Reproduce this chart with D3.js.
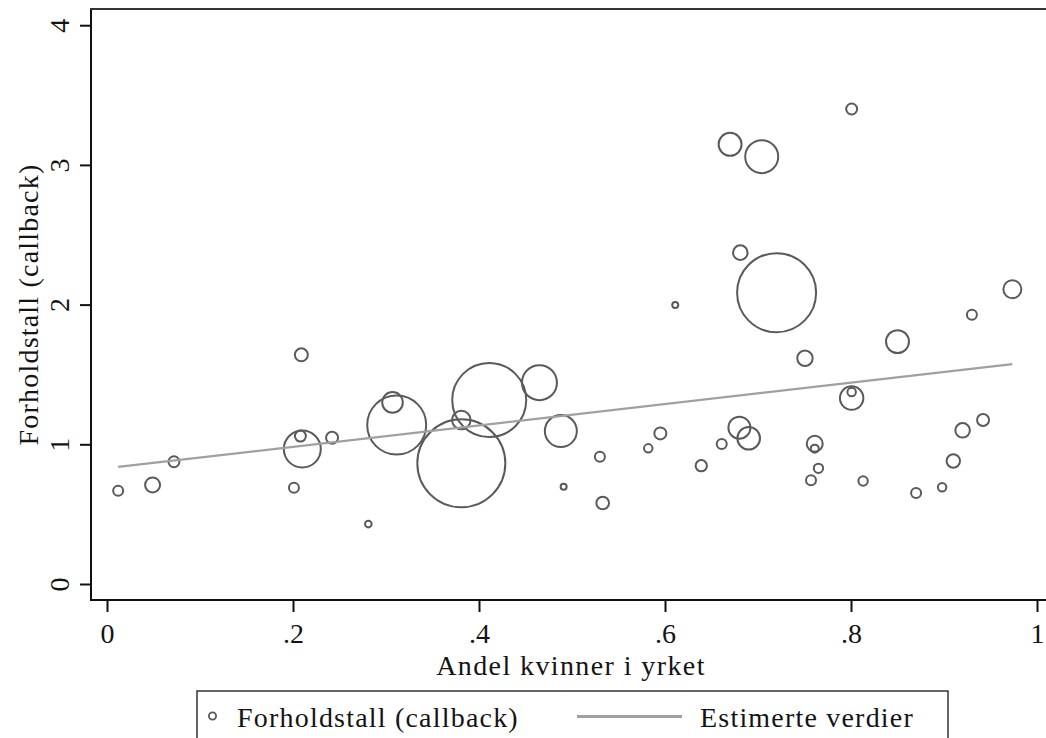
<!DOCTYPE html>
<html>
<head>
<meta charset="utf-8">
<script src="https://cdn.jsdelivr.net/npm/d3@7"></script>
<style>
  html, body { margin: 0; padding: 0; background: #fff; }
  svg { display: block; }
  svg text { font-family: 'Liberation Serif', 'DejaVu Serif', serif; fill: #141414; }
</style>
</head>
<body>
<svg id="chart" width="1046" height="738"></svg>
<script>
// ---- data ----
const shareWomen = [0.012, 0.049, 0.072, 0.201, 0.208, 0.209, 0.210, 0.242, 0.281, 0.307,
  0.3115, 0.381, 0.381, 0.411, 0.465, 0.488, 0.491, 0.530, 0.533, 0.582,
  0.595, 0.611, 0.639, 0.661, 0.670, 0.680, 0.681, 0.690, 0.704, 0.720,
  0.7505, 0.757, 0.761, 0.761, 0.765, 0.8007, 0.8007, 0.8007, 0.813, 0.850,
  0.870, 0.898, 0.910, 0.920, 0.930, 0.942, 0.9735];
const ratioCallback = [0.668, 0.709, 0.875, 0.689, 1.059, 1.641, 0.966, 1.047, 0.429, 1.300,
  1.138, 1.174, 0.864, 1.317, 1.441, 1.095, 0.697, 0.911, 0.580, 0.971,
  1.078, 1.997, 0.847, 1.002, 3.147, 1.119, 2.372, 1.043, 3.059, 2.085,
  1.616, 0.742, 1.004, 0.969, 0.828, 3.400, 1.331, 1.374, 0.737, 1.735,
  0.651, 0.692, 0.880, 1.100, 1.928, 1.174, 2.110];
const weights = [25, 56, 30, 25, 30, 42, 342, 36, 11, 106,
  870, 86, 1936, 1369, 306, 256, 9, 25, 40, 18,
  36, 9, 32, 25, 132, 121, 53, 128, 272, 1560,
  59, 25, 64, 16, 22, 30, 137, 18, 22, 132,
  25, 18, 45, 53, 25, 36, 81];
const fitX = [0.012, 0.9735];
const fitY = [0.838, 1.574];
const xTicks = [0, 0.2, 0.4, 0.6, 0.8, 1];
const xTickLabels = ["0", ".2", ".4", ".6", ".8", "1"];
const yTicks = [0, 1, 2, 3, 4];
const yTickLabels = ["0", "1", "2", "3", "4"];
const xTitle = "Andel kvinner i yrket";
const yTitle = "Forholdstall (callback)";
const legendLabels = ["Forholdstall (callback)", "Estimerte verdier"];

// ---- layout ----
const svg = d3.select("#chart");
const frameL = 91, frameT = 9, frameB = 600, frameR = 1046;
const x = d3.scaleLinear().domain([0, 1]).range([107, 1037]);
const y = d3.scaleLinear().domain([0, 4]).range([584, 25.2]);
const r = d3.scaleSqrt().domain([0, 1936]).range([0, 44]);
const markerColor = "#5a5a5a";
const fitColor = "#a0a0a0";
const fontSize = 28;
const serif = "'Liberation Serif', 'DejaVu Serif', serif";

// markers
const pts = shareWomen.map((d, i) => ({ x: d, y: ratioCallback[i], w: weights[i] }));
svg.append("g").selectAll("circle").data(pts).join("circle")
  .attr("cx", d => x(d.x)).attr("cy", d => y(d.y)).attr("r", d => r(d.w))
  .attr("fill", "none").attr("stroke", markerColor).attr("stroke-width", 2);

// fitted line
svg.append("path")
  .datum(fitX.map((d, i) => [d, fitY[i]]))
  .attr("d", d3.line().x(d => x(d[0])).y(d => y(d[1])))
  .attr("fill", "none").attr("stroke", fitColor).attr("stroke-width", 2.2);

// frame
const frame = svg.append("g").attr("stroke", "#111").attr("stroke-width", 2).attr("fill", "none");
frame.append("line").attr("x1", frameL).attr("x2", frameL).attr("y1", frameT - 1).attr("y2", frameB + 1);
frame.append("line").attr("x1", frameL - 1).attr("x2", frameR).attr("y1", frameB).attr("y2", frameB);
frame.append("line").attr("x1", frameL - 1).attr("x2", frameR).attr("y1", frameT).attr("y2", frameT).attr("stroke", "#333");

// x axis
const xAxis = svg.append("g").attr("transform", `translate(0,${frameB})`)
  .call(d3.axisBottom(x).tickValues(xTicks).tickSize(12).tickFormat((d, i) => xTickLabels[i]));
xAxis.attr("font-family", null).attr("font-size", null);
xAxis.select(".domain").remove();
xAxis.selectAll(".tick line").attr("stroke", "#111").attr("stroke-width", 2);
xAxis.selectAll(".tick text").attr("y", 43).attr("dy", 0)
  .style("font-family", serif).style("font-size", fontSize + "px").attr("fill", "#141414");

// y axis
const yAxis = svg.append("g").attr("transform", `translate(${frameL},0)`)
  .call(d3.axisLeft(y).tickValues(yTicks).tickSize(11).tickFormat((d, i) => yTickLabels[i]));
yAxis.attr("font-family", null).attr("font-size", null);
yAxis.select(".domain").remove();
yAxis.selectAll(".tick line").attr("stroke", "#111").attr("stroke-width", 2);
yAxis.selectAll(".tick text")
  .attr("x", 0).attr("y", 0).attr("dy", 0)
  .attr("transform", "translate(-22,0) rotate(-90)")
  .attr("text-anchor", "middle")
  .style("font-family", serif).style("font-size", fontSize + "px").attr("fill", "#141414");

// titles
svg.append("text").attr("x", 571).attr("y", 675).attr("text-anchor", "middle")
  .style("font-family", serif).style("font-size", fontSize + "px").style("letter-spacing", "1.4px").text(xTitle);
svg.append("text").attr("transform", `translate(38,${(frameT + frameB) / 2}) rotate(-90)`)
  .attr("text-anchor", "middle").style("font-family", serif).style("font-size", fontSize + "px")
  .style("letter-spacing", "1.2px").text(yTitle);

// legend
const lg = svg.append("g");
lg.append("rect").attr("x", 197).attr("y", 691).attr("width", 751).attr("height", 70)
  .attr("fill", "#fff").attr("stroke", "#333").attr("stroke-width", 1.5);
lg.append("circle").attr("cx", 212.5).attr("cy", 716).attr("r", 3.6)
  .attr("fill", "none").attr("stroke", markerColor).attr("stroke-width", 1.8);
lg.append("text").attr("x", 237).attr("y", 727).style("font-family", serif).style("font-size", fontSize + "px")
  .style("letter-spacing", "1.2px").text(legendLabels[0]);
lg.append("line").attr("x1", 577).attr("x2", 682).attr("y1", 716.5).attr("y2", 716.5)
  .attr("stroke", fitColor).attr("stroke-width", 3);
lg.append("text").attr("x", 700).attr("y", 727).style("font-family", serif).style("font-size", fontSize + "px")
  .style("letter-spacing", "1.2px").text(legendLabels[1]);
</script>
</body>
</html>
